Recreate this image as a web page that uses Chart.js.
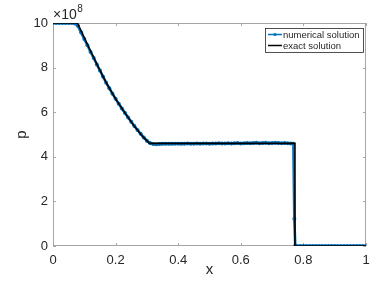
<!DOCTYPE html>
<html>
<head>
<meta charset="utf-8">
<script src="https://cdn.jsdelivr.net/npm/chart.js@4/dist/chart.umd.min.js"></script>
<style>
html, body { margin: 0; padding: 0; background: #fff; }
#wrap { width: 382px; height: 287px; }
</style>
</head>
<body>
<div id="wrap"><canvas id="chart" width="382" height="287"></canvas></div>
<script>
// pressure in units of 1e8
const xExact = [0, 0.078, 0.10, 0.125, 0.145, 0.171, 0.20, 0.23, 0.257, 0.285, 0.308, 0.773, 0.773, 1];
const pExact = [10, 10, 9.34, 8.60, 8.02, 7.30, 6.60, 5.97, 5.43, 4.93, 4.60, 4.60, 0, 0];

const xNum = [0, 0.01, 0.02, 0.03, 0.04, 0.05, 0.06, 0.07, 0.08, 0.09,
    0.10, 0.11, 0.12, 0.13, 0.14, 0.15, 0.16, 0.17, 0.18, 0.19,
    0.20, 0.21, 0.22, 0.23, 0.24, 0.25, 0.26, 0.27, 0.28, 0.29,
    0.30, 0.31, 0.32, 0.33, 0.34, 0.35, 0.36, 0.37, 0.38, 0.39,
    0.40, 0.41, 0.42, 0.43, 0.44, 0.45, 0.46, 0.47, 0.48, 0.49,
    0.50, 0.51, 0.52, 0.53, 0.54, 0.55, 0.56, 0.57, 0.58, 0.59,
    0.60, 0.61, 0.62, 0.63, 0.64, 0.65, 0.66, 0.67, 0.68, 0.69,
    0.70, 0.71, 0.72, 0.73, 0.74, 0.75, 0.76, 0.768, 0.771, 0.774,
    0.78, 0.79, 0.80, 0.81, 0.82, 0.83, 0.84, 0.85, 0.86, 0.87,
    0.88, 0.89, 0.90, 0.91, 0.92, 0.93, 0.94, 0.95, 0.96, 0.97,
    0.98, 0.99, 1.00];
const pNum = [10, 10, 10, 10, 10, 10, 10, 9.98, 9.86, 9.57,
    9.28, 9.00, 8.70, 8.43, 8.14, 7.87, 7.59, 7.32, 7.07, 6.83,
    6.60, 6.38, 6.17, 5.96, 5.76, 5.57, 5.38, 5.20, 5.03, 4.87,
    4.72, 4.62, 4.57, 4.56, 4.57, 4.58, 4.58, 4.59, 4.58, 4.59,
    4.59, 4.58, 4.59, 4.60, 4.59, 4.59, 4.60, 4.59, 4.60, 4.60,
    4.59, 4.60, 4.60, 4.61, 4.60, 4.60, 4.61, 4.60, 4.61, 4.62,
    4.60, 4.61, 4.62, 4.61, 4.62, 4.63, 4.61, 4.62, 4.63, 4.61,
    4.62, 4.63, 4.62, 4.61, 4.62, 4.61, 4.60, 4.58, 1.22, 0.02,
    0, 0, 0, 0, 0, 0, 0, 0, 0, 0,
    0, 0, 0, 0, 0, 0, 0, 0, 0, 0,
    0, 0, 0];

const xTicks = [0, 0.2, 0.4, 0.6, 0.8, 1];
const xTickLabels = ['0', '0.2', '0.4', '0.6', '0.8', '1'];
const pTicks = [0, 2, 4, 6, 8, 10];
const pTickLabels = ['0', '2', '4', '6', '8', '10'];

const BLUE = '#0072BD';
const TXT = '#262626';
const AXIS = '#a6a6a6';
const FONT = '"Liberation Sans", Arial, sans-serif';

const framePlugin = {
    id: 'frame',
    beforeDatasetsDraw(chart) {
        const ctx = chart.ctx;
        const a = chart.chartArea;
        const xs = chart.scales.x, ys = chart.scales.y;
        ctx.save();
        ctx.strokeStyle = AXIS;
        ctx.lineWidth = 1;
        ctx.strokeRect(a.left + 0.5, a.top + 0.5, a.right - a.left - 1, a.bottom - a.top - 1);
        ctx.beginPath();
        xTicks.forEach(v => {
            const px = Math.round(xs.getPixelForValue(v)) + 0.5;
            ctx.moveTo(px, a.bottom); ctx.lineTo(px, a.bottom - 3);
            ctx.moveTo(px, a.top); ctx.lineTo(px, a.top + 3);
        });
        pTicks.forEach(v => {
            const py = Math.round(ys.getPixelForValue(v)) + 0.5;
            ctx.moveTo(a.left, py); ctx.lineTo(a.left + 3, py);
            ctx.moveTo(a.right, py); ctx.lineTo(a.right - 3, py);
        });
        ctx.stroke();
        ctx.restore();
    },
    afterDraw(chart) {
        const ctx = chart.ctx;
        const a = chart.chartArea;
        ctx.save();
        ctx.fillStyle = TXT;
        // axis titles
        ctx.font = '15px ' + FONT;
        ctx.textAlign = 'center';
        ctx.textBaseline = 'middle';
        ctx.fillText('x', (a.left + a.right) / 2, 270);
        ctx.save();
        ctx.translate(22, (a.top + a.bottom) / 2);
        ctx.rotate(-Math.PI / 2);
        ctx.fillText('p', 0, 0);
        ctx.restore();
        // exponent
        ctx.textAlign = 'left';
        ctx.textBaseline = 'alphabetic';
        ctx.font = '14px ' + FONT;
        ctx.fillText('\u00d710', a.left, 19);
        const w = ctx.measureText('\u00d710').width;
        ctx.font = '10px ' + FONT;
        ctx.fillText('8', a.left + w + 0.5, 12);

        // legend
        const lx = 265, ly = 28, lw = 98, lh = 24;
        ctx.fillStyle = '#fff';
        ctx.fillRect(lx, ly, lw, lh);
        ctx.strokeStyle = '#262626';
        ctx.lineWidth = 0.8;
        ctx.strokeRect(lx + 0.5, ly + 0.5, lw, lh);
        ctx.font = '9.5px ' + FONT;
        ctx.textBaseline = 'middle';
        chart.data.datasets.forEach((ds, i) => {
            const y = ly + 6.5 + i * 11;
            ctx.strokeStyle = ds.borderColor;
            ctx.lineWidth = 1.5;
            ctx.beginPath();
            ctx.moveTo(lx + 3, y); ctx.lineTo(lx + 17, y);
            ctx.stroke();
            if (ds.pointRadius > 0) {
                ctx.fillStyle = ds.borderColor;
                ctx.beginPath();
                ctx.arc(lx + 10, y, 1.6, 0, Math.PI * 2);
                ctx.fill();
            }
            ctx.fillStyle = TXT;
            ctx.fillText(ds.label, lx + 18, y + 0.5);
        });
        ctx.restore();
    }
};

new Chart(document.getElementById('chart'), {
    type: 'line',
    data: {
        datasets: [
            {
                label: 'numerical solution',
                data: xNum.map((x, i) => ({ x: x, y: pNum[i] })),
                borderColor: BLUE,
                backgroundColor: BLUE,
                borderWidth: 2.6,
                pointRadius: 2,
                pointBorderWidth: 0,
                order: 2
            },
            {
                label: 'exact solution',
                data: xExact.map((x, i) => ({ x: x, y: pExact[i] })),
                borderColor: '#000000',
                backgroundColor: '#000000',
                borderWidth: 1.6,
                pointRadius: 0,
                order: 1
            }
        ]
    },
    options: {
        responsive: false,
        animation: false,
        devicePixelRatio: 1,
        layout: { padding: { left: 0, top: 23, right: 16, bottom: 0 } },
        plugins: { legend: { display: false }, tooltip: { enabled: false } },
        elements: { line: { tension: 0 } },
        scales: {
            x: {
                type: 'linear', min: 0, max: 1,
                grid: { display: false, drawTicks: false },
                border: { display: false },
                afterBuildTicks: s => { s.ticks = xTicks.map(v => ({ value: v })); },
                afterFit: s => { s.height = 41; },
                ticks: {
                    color: TXT, padding: 7,
                    font: { family: FONT, size: 13 },
                    callback: (v) => xTickLabels[xTicks.indexOf(v)]
                }
            },
            y: {
                type: 'linear', min: 0, max: 10,
                grid: { display: false, drawTicks: false },
                border: { display: false },
                afterBuildTicks: s => { s.ticks = pTicks.map(v => ({ value: v })); },
                afterFit: s => { s.width = 53; },
                ticks: {
                    color: TXT, padding: 5,
                    font: { family: FONT, size: 13 },
                    callback: (v) => pTickLabels[pTicks.indexOf(v)]
                }
            }
        }
    },
    plugins: [framePlugin]
});
</script>
</body>
</html>
